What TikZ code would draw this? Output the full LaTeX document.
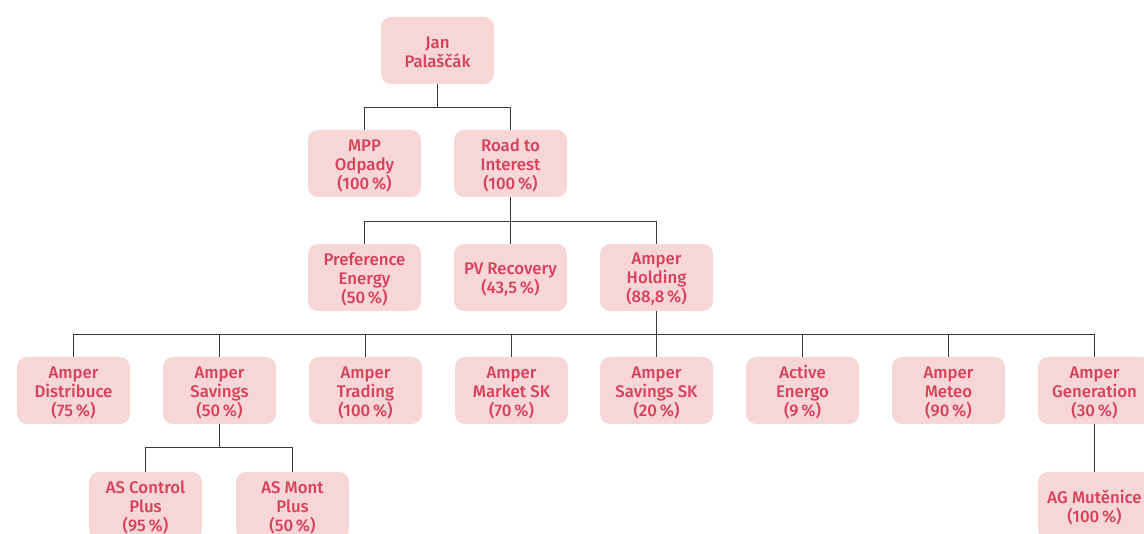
\documentclass[tikz,border=0pt]{standalone}
\usepackage{fontspec}
\setmainfont{Fira Sans}[UprightFont=* Medium]
\definecolor{boxfill}{HTML}{F6D6D6}
\definecolor{boxtext}{HTML}{D8405A}
\definecolor{linec}{HTML}{3A3A3A}
\tikzset{
  org/.style={preaction={fill=boxfill, transform canvas={yshift=2pt}}, text=boxtext,
    rounded corners=10pt, minimum width=113pt,
    minimum height=67pt, inner sep=0pt, align=center, font=\fontsize{16.8}{19}\selectfont},
  link/.style={draw=linec, line width=1.1pt}
}
\begin{document}
\begin{tikzpicture}[x=1pt,y=-1pt]
\useasboundingbox (0,0) rectangle (1144,534);
% level 1 (text lowered by 2; box drawn 2 higher)
\node[org] (jan) at (437.5,52.5) {Jan\\Palaščák};
% level 2
\node[org] (mpp) at (364.5,165.5) {MPP\\Odpady\\(100\,\%)};
\node[org] (road) at (510.5,165.5) {Road to\\Interest\\(100\,\%)};
% level 3
\node[org] (pref) at (364.5,279.5) {Preference\\Energy\\(50\,\%)};
\node[org] (pv) at (510.5,279.5) {PV Recovery\\(43,5\,\%)};
\node[org] (ah) at (656.5,279.5) {Amper\\Holding\\(88,8\,\%)};
% level 4
\node[org] (ad) at (73.5,392.5) {Amper\\Distribuce\\(75\,\%)};
\node[org] (as) at (219.5,392.5) {Amper\\Savings\\(50\,\%)};
\node[org] (at) at (365.5,392.5) {Amper\\Trading\\(100\,\%)};
\node[org] (am) at (511.5,392.5) {Amper\\Market SK\\(70\,\%)};
\node[org] (ass) at (656.5,392.5) {Amper\\Savings SK\\(20\,\%)};
\node[org] (ae) at (802.5,392.5) {Active\\Energo\\(9\,\%)};
\node[org] (amet) at (948.5,392.5) {Amper\\Meteo\\(90\,\%)};
\node[org] (ag) at (1094.5,392.5) {Amper\\Generation\\(30\,\%)};
% level 5
\node[org] (asc) at (145.5,507.5) {AS Control\\Plus\\(95\,\%)};
\node[org] (asm) at (292.5,507.5) {AS Mont\\Plus\\(50\,\%)};
\node[org] (agm) at (1094.5,507.5) {AG Mutěnice\\(100\,\%)};
% connectors
\draw[link] ([yshift=2pt]jan.south) -- ++(0,23) -| ([yshift=2pt]mpp.north);
\draw[link] ([yshift=2pt]jan.south) -- ++(0,23) -| ([yshift=2pt]road.north);
\draw[link] ([yshift=2pt]road.south) -- ++(0,24) -| ([yshift=2pt]pref.north);
\draw[link] ([yshift=2pt]road.south) -- ([yshift=2pt]pv.north);
\draw[link] ([yshift=2pt]road.south) -- ++(0,24) -| ([yshift=2pt]ah.north);
\foreach \t in {ad,as,at,am,ass,ae,amet,ag}
  \draw[link] ([yshift=2pt]ah.south) -- ++(0,23) -| ([yshift=2pt]\t.north);
\draw[link] ([yshift=2pt]as.south) -- ++(0,23) -| ([yshift=2pt]asc.north);
\draw[link] ([yshift=2pt]as.south) -- ++(0,23) -| ([yshift=2pt]asm.north);
\draw[link] ([yshift=2pt]ag.south) -- ([yshift=2pt]agm.north);
\end{tikzpicture}
\end{document}
